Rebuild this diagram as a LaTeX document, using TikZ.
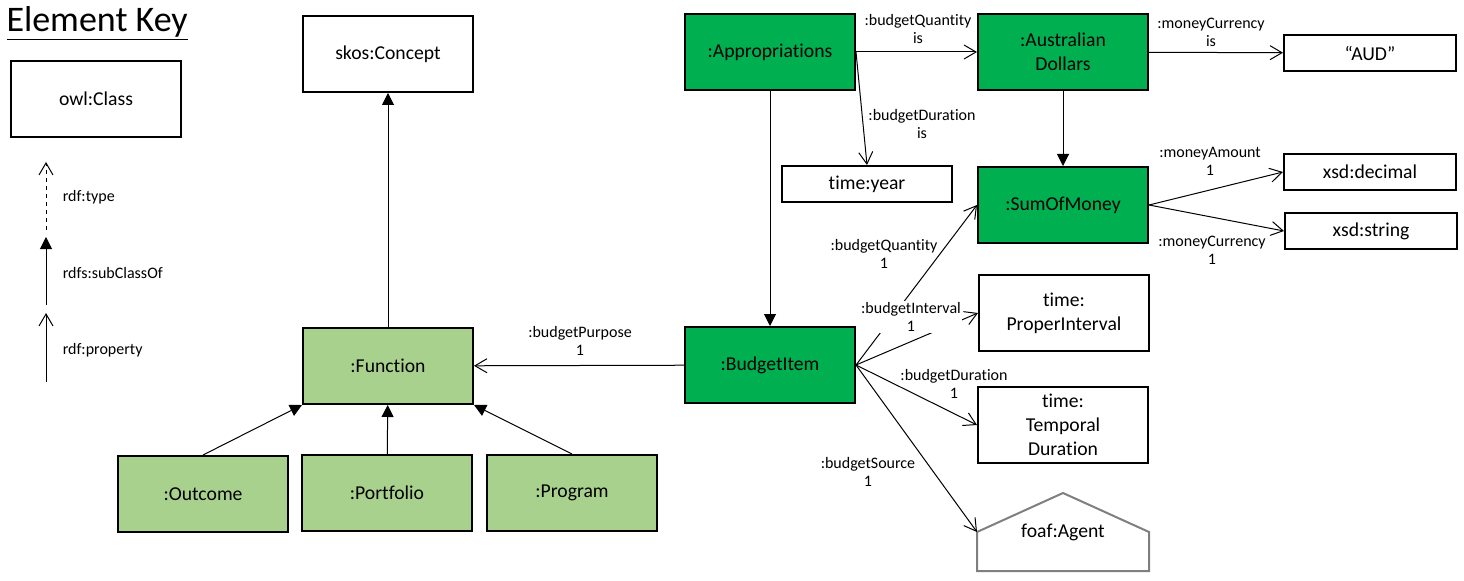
\documentclass[tikz,border=0pt]{standalone}
\usepackage{fontspec}
\setmainfont{Carlito}[Ligatures={TeX,NoCommon}]
\usetikzlibrary{arrows.meta}
\definecolor{darkgreen}{HTML}{00B050}
\definecolor{lightgreen}{HTML}{A9D18E}
\definecolor{housegray}{HTML}{7F7F7F}

\begin{document}
\begin{tikzpicture}[x=0.75pt, y=-0.75pt, line width=0.75pt,
  cls/.style={draw, line width=1.5pt, minimum width=127.5pt, minimum height=57pt, align=center, font=\fontsize{14.75}{18}\selectfont},
  dark/.style={cls, fill=darkgreen},
  light/.style={cls, fill=lightgreen},
  lit/.style={cls, minimum height=27pt},
  lbl/.style={align=center, inner sep=1pt, font=\fontsize{12}{13.5}\selectfont},
  prop/.style={-{Straight Barb[length=9pt,width=10.5pt]}},
  sub/.style={-{Triangle[length=9pt,width=9pt]}}]
\useasboundingbox (0,0) rectangle (1464,581);

\node[anchor=west, inner sep=0pt, font=\fontsize{27}{30}\selectfont] (title) at (6,23) {\underline{Element Key}};
\node[cls] (owl) at (96,99) {owl:Class};
\coordinate (k1) at (46,230);
\coordinate (k2) at (46,162);
\coordinate (k3) at (46,305);
\coordinate (k4) at (46,237);
\coordinate (k5) at (46,382);
\coordinate (k6) at (46,313);
\node[anchor=west, lbl] (ktype) at (61,197) {rdf:type};
\node[anchor=west, lbl] (ksub) at (61,273) {rdfs:subClassOf};
\node[anchor=west, lbl] (kprop) at (61,350) {rdf:property};

\node[cls] (skos) at (388,54) {skos:Concept};
\node[light] (func) at (388,366) {:Function};
\node[light] (outc) at (203,494) {:Outcome};
\node[light] (port) at (387,493) {:Portfolio};
\node[light] (prog) at (572,493) {:Program};

\node[dark] (appr) at (770,52) {:Appropriations};
\node[dark] (ausd) at (1063,52) {:Australian\\Dollars};
\node[dark] (som) at (1063,205) {:SumOfMoney};
\node[dark] (bitem) at (770,365) {:BudgetItem};
\node[lit] (year) at (867,184) {time:year};
\node[lit, minimum width=129pt] (aud) at (1370,53) {“AUD”};
\node[lit, minimum width=129pt] (dec) at (1370,172) {xsd:decimal};
\node[lit, minimum width=129pt] (str) at (1371,231) {xsd:string};
\node[cls] (pint) at (1064,313) {time:\\ProperInterval};
\node[cls] (tdur) at (1063,425) {time:\\Temporal\\Duration};
\node[cls, draw=none] (agent) at (1063,532) {foaf:Agent};
\draw[housegray, line width=1.5pt] (agent.west) -- (agent.north) -- (agent.east) -- (agent.south east) -- (agent.south west) -- cycle;

\draw[dashed, prop] (k1) -- (k2);
\draw[sub] (k3) -- (k4);
\draw[prop] (k5) -- (k6);

\draw[sub] (func) -- (skos);
\draw[sub] (outc.north) -- (func.south west);
\draw[sub] (port) -- (func);
\draw[sub] (prog.north) -- (func.south east);
\draw[sub] (appr) -- (bitem);
\draw[sub] (ausd) -- (som);

\draw[prop] (bitem) -- (func);
\draw[prop] (appr) -- (ausd);
\draw[prop] (appr.east) -- (year.north);
\draw[prop] (ausd) -- (aud);
\draw[prop] (som.east) -- (dec.west);
\draw[prop] (som.east) -- (str.west);
\draw[prop] (bitem.east) -- (som.west);
\draw[prop] (bitem.east) -- (pint.west);
\draw[prop] (bitem.east) -- (tdur.west);
\draw[prop] (bitem.east) -- (agent.west);

\node[lbl] (lq1) at (918,29) {:budgetQuantity\\is};
\node[lbl] (ld1) at (922,124) {:budgetDuration\\is};
\node[lbl] (lc1) at (1211,32) {:moneyCurrency\\is};
\node[lbl] (la) at (1210,161) {:moneyAmount\\1};
\node[lbl] (lc2) at (1212,250) {:moneyCurrency\\1};
\node[lbl] (lq2) at (884,254) {:budgetQuantity\\1};
\node[lbl, fill=white] (li) at (911,317) {:budgetInterval\\1};
\node[lbl] (ld2) at (954,384) {:budgetDuration\\1};
\node[lbl] (ls) at (868,472) {:budgetSource\\1};
\node[lbl] (lp) at (580,341) {:budgetPurpose\\1};
\end{tikzpicture}
\end{document}
